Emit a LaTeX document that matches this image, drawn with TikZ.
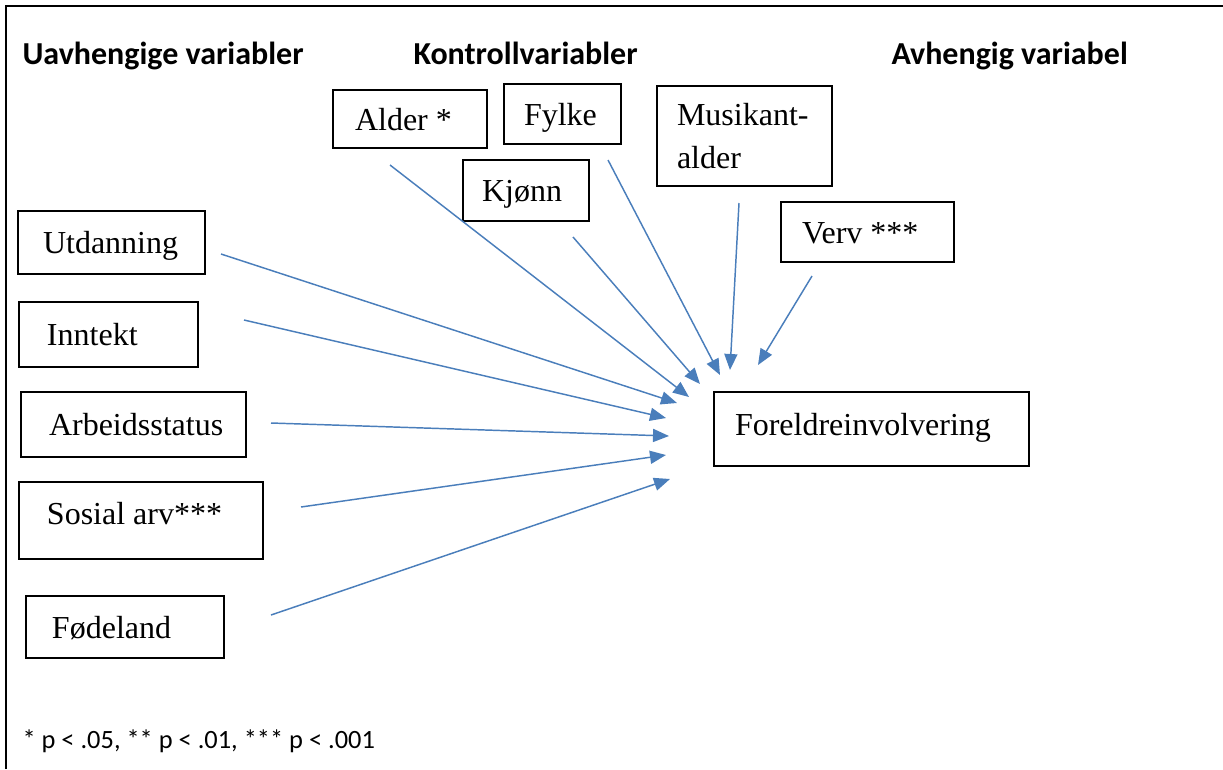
\documentclass[tikz,border=0pt]{standalone}
\usepackage{fontspec}
\setmainfont{Liberation Serif}
\newfontfamily\cali{Carlito}
\usetikzlibrary{arrows.meta}
\definecolor{arrowblue}{HTML}{4A7EBB}
\begin{document}
\begin{tikzpicture}[x=0.375pt,y=-0.375pt,
  box/.style={draw, line width=0.75pt, inner ysep=0pt, anchor=center,
    font=\fontsize{12}{16}\selectfont},
  sl/.style={text height=11.25pt, text depth=3pt},
  head/.style={font=\cali\bfseries\fontsize{12}{14}\selectfont, anchor=base west, inner sep=0pt},
  note/.style={font=\cali\fontsize{9.9}{12}\selectfont, anchor=base west, inner sep=0pt},
  link/.style={draw=arrowblue, line width=0.55pt, -{Triangle[length=6pt,width=4.9pt]}}]
\useasboundingbox (0,0) rectangle (1223,769);
\draw[line width=0.75pt] (6,769) -- (6,6) -- (1223,6);

% headings
\node[head] (h1) at (22,64) {Uavhengige variabler};
\node[head] (h2) at (413,64) {Kontrollvariabler};
\node[head] (h3) at (891,64) {Avhengig variabel};

% control variables
\node[box, sl, inner xsep=8.25pt, minimum height=21.75pt] (alder) at (410,119) {\makebox[41.25pt][l]{Alder *}};
\node[box, sl, inner xsep=7.5pt, minimum height=22.5pt] (fylke) at (562.5,114) {\makebox[28.875pt][l]{Fylke}};
\node[box, sl, inner xsep=7.125pt, minimum height=22.875pt] (kjonn) at (526,190.5) {\makebox[33pt][l]{Kjønn}};
\node[box, inner xsep=7.5pt, minimum height=37.5pt, text width=50.625pt, align=left] (musik) at (744.5,136) {Musikant-\\alder};
\node[box, sl, inner xsep=7.875pt, minimum height=22.5pt] (verv) at (867.5,232) {\makebox[49.125pt][l]{Verv ***}};

% independent variables
\node[box, sl, inner xsep=9.375pt, minimum height=23.625pt] (utd) at (111.5,242.5) {\makebox[51.375pt][l]{Utdanning}};
\node[box, sl, inner xsep=10.5pt, minimum height=24.375pt] (inn) at (108.5,334.5) {\makebox[46.125pt][l]{Inntekt}};
\node[box, sl, inner xsep=10.5pt, minimum height=24.375pt] (arb) at (133.5,424.5) {\makebox[63.375pt][l]{Arbeidsstatus}};
\node[box, text height=10.1pt, text depth=6.75pt, inner xsep=10.5pt, minimum height=28.875pt] (sos) at (141,520.5) {\makebox[70.5pt][l]{Sosial arv***}};
\node[box, sl, inner xsep=9.75pt, minimum height=23.25pt] (fod) at (125,627) {\makebox[54.75pt][l]{Fødeland}};

% dependent variable
\node[box, text height=10.1pt, text depth=5.25pt, inner xsep=7.875pt, minimum height=27.75pt] (for) at (871.5,429) {\makebox[102.375pt][l]{Foreldreinvolvering}};

% arrow end points
\coordinate (s1) at (221,254);  \coordinate (e1) at (677,403);
\coordinate (s2) at (244,320);  \coordinate (e2) at (666,418);
\coordinate (s3) at (271,423);  \coordinate (e3) at (669,436);
\coordinate (s4) at (301,507);  \coordinate (e4) at (666,455);
\coordinate (s5) at (271,615);  \coordinate (e5) at (670,479);
\coordinate (s6) at (390,165);  \coordinate (e6) at (689,397);
\coordinate (s7) at (573,237);  \coordinate (e7) at (700,384);
\coordinate (s8) at (608,160);  \coordinate (e8) at (720,375);
\coordinate (s9) at (739,203);  \coordinate (e9) at (730,370);
\coordinate (s10) at (812,276); \coordinate (e10) at (758,365);

\draw[link] (s1) -- (e1);
\draw[link] (s2) -- (e2);
\draw[link] (s3) -- (e3);
\draw[link] (s4) -- (e4);
\draw[link] (s5) -- (e5);
\draw[link] (s6) -- (e6);
\draw[link] (s7) -- (e7);
\draw[link] (s8) -- (e8);
\draw[link] (s9) -- (e9);
\draw[link] (s10) -- (e10);

% footnote
\node[note] (fn) at (22,748) {* p < .05, ** p < .01, *** p < .001};
\end{tikzpicture}
\end{document}
